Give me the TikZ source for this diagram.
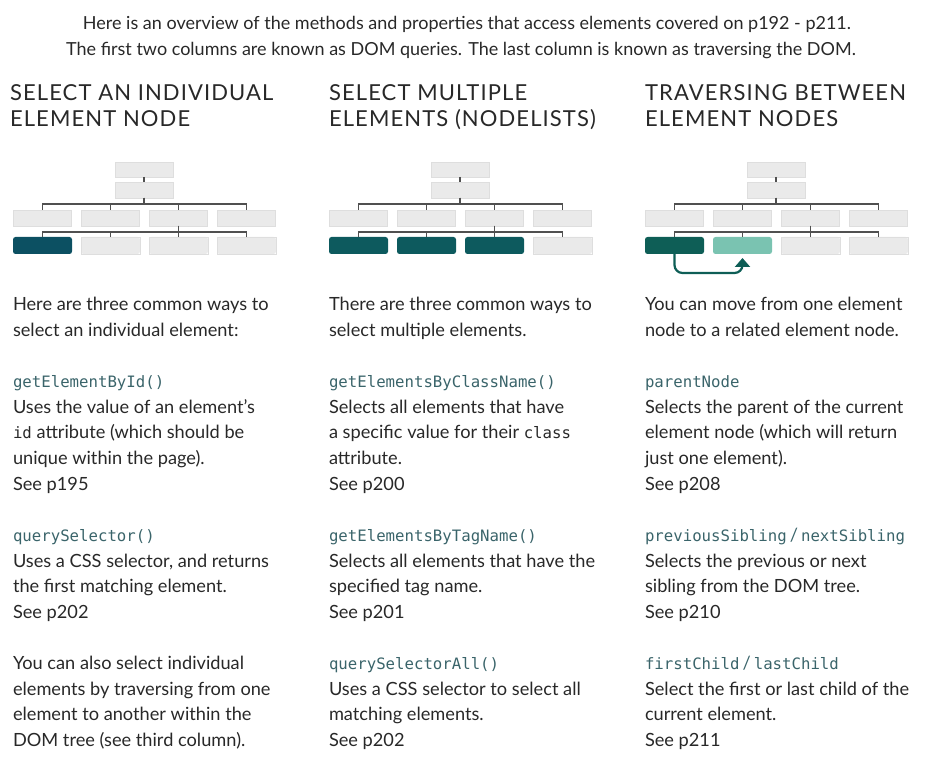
\documentclass[tikz,border=0pt]{standalone}
\usepackage{fontspec}
\setmainfont{Lato}
\newfontfamily\codefont{DejaVu Sans Mono}
\newfontfamily\headfont[LetterSpace=5]{Lato}
\usetikzlibrary{arrows.meta}
\definecolor{txt}{RGB}{40,40,40}
\definecolor{codec}{RGB}{58,100,106}
\definecolor{lbox}{RGB}{234,234,234}
\definecolor{lboxd}{RGB}{222,222,222}
\definecolor{connc}{RGB}{80,80,80}
\definecolor{darkA}{RGB}{12,80,98}
\definecolor{darkB}{RGB}{13,90,94}
\definecolor{darkC}{RGB}{14,94,86}
\definecolor{lightC}{RGB}{122,195,177}
\newcommand{\cd}[1]{{\codefont\fontsize{15.7}{25.6}\selectfont\color{codec}#1}}
\newcommand{\ci}[1]{{\codefont\fontsize{15.7}{25.6}\selectfont #1}}
\begin{document}
\begin{tikzpicture}[x=1pt,y=-1pt,
  every node/.style={inner sep=0pt,outer sep=0pt},
  lb/.style={draw=lboxd,fill=lbox,line width=0.6pt,minimum width=58pt},
  db/.style={minimum width=59pt,rounded corners=2.5pt},
  conn/.style={draw=connc,line width=1.5pt},
  tl/.style={anchor=base west,text=txt,font=\fontsize{18.2}{25.6}\selectfont},
  hd/.style={anchor=base west,text=txt,font=\headfont\fontsize{22}{26}\selectfont},
  top/.style={anchor=base,text=txt,font=\fontsize{18}{26}\selectfont},
  arr/.style={draw=darkC,line width=2.2pt,rounded corners=8pt,-{Triangle[width=15pt,length=9pt]}}]
\useasboundingbox (0,0) rectangle (930,767);

% header
\node[top] (h1) at (467,30) {Here is an overview of the methods and properties that access elements covered on p192 - p211.};
\node[top] (h2) at (461,56) {The first two columns are known as DOM queries. The last column is known as traversing the DOM.};

% column headings
\node[hd] (ha1) at (10,101) {SELECT AN INDIVIDUAL};
\node[hd] (ha2) at (10,127) {ELEMENT NODE};
\node[hd] (hb1) at (329,101) {SELECT MULTIPLE};
\node[hd] (hb2) at (329,127) {ELEMENTS (NODELISTS)};
\node[hd] (hc1) at (645,101) {TRAVERSING BETWEEN};
\node[hd] (hc2) at (645,127) {ELEMENT NODES};

% trees: upper rows
\foreach \ox/\p in {0/A,316/B,632/C}{
  \node[lb,minimum height=15pt] (\p r) at (144+\ox,169.5) {};
  \node[lb,minimum height=16pt] (\p s) at (144+\ox,190) {};
  \foreach \k in {0,1,2,3}{
    \node[lb,minimum height=16pt] (\p m\k) at (42.5+68*\k+\ox,218) {};
  }
  \draw[conn] (\p r.south) -- (\p s.north);
  \foreach \k in {0,1,2,3}{
    \draw[conn] (\p s.south) -- ++(0,6) -| (\p m\k.north);
  }
}
% bottom rows
\foreach \ox/\p/\fa/\fb/\fc/\fd in {0/A/darkA/lbox/lbox/lbox,316/B/darkB/darkB/darkB/lbox,632/C/darkC/lightC/lbox/lbox}{
  \node[db,fill=\fa,minimum height=17pt] (\p b0) at (42.5+\ox,245.5) {};
  \node[db,fill=\fb,minimum height=17pt] (\p b1) at (110.5+\ox,245.5) {};
  \node[db,fill=\fc,minimum height=17pt] (\p b2) at (178.5+\ox,245.5) {};
  \node[db,fill=\fd,minimum height=17pt] (\p b3) at (246.5+\ox,245.5) {};
  \foreach \k in {0,1,2,3}{
    \draw[conn] (\p m2.south) -- ++(0,6) -| (\p b\k.north);
  }
}
% light boxes in bottom rows get a thin border
\foreach \n in {Ab1,Ab2,Ab3,Bb3,Cb2,Cb3}{
  \draw[draw=lboxd,line width=0.6pt] (\n.south west) rectangle (\n.north east);
}
% traversal arrow
\draw[arr] (Cb0.south) -- ++(0,19) -| ([yshift=-4pt]Cb1.south);

% column texts
\foreach \t [count=\i from 0] in {
 {Here are three common ways to},{select an individual element:},{},
 {\cd{getElementById()}},{Uses the value of an element's},{\ci{id} attribute (which should be},
 {unique within the page).},{See p195},{},
 {\cd{querySelector()}},{Uses a CSS selector, and returns},{the first matching element.},{See p202},{},
 {You can also select individual},{elements by traversing from one},{element to another within the},{DOM tree (see third column).}}{
  \node[tl] (ta\i) at (13,311+25.6*\i) {\t};
}
\foreach \t [count=\i from 0] in {
 {There are three common ways to},{select multiple elements.},{},
 {\cd{getElementsByClassName()}},{Selects all elements that have},{a specific value for their \ci{class}},
 {attribute.},{See p200},{},
 {\cd{getElementsByTagName()}},{Selects all elements that have the},{specified tag name.},{See p201},{},
 {\cd{querySelectorAll()}},{Uses a CSS selector to select all},{matching elements.},{See p202}}{
  \node[tl] (tb\i) at (329,311+25.6*\i) {\t};
}
\foreach \t [count=\i from 0] in {
 {You can move from one element},{node to a related element node.},{},
 {\cd{parentNode}},{Selects the parent of the current},{element node (which will return},
 {just one element).},{See p208},{},
 {\cd{previousSibling}\,{\color{codec}/}\,\cd{nextSibling}},{Selects the previous or next},{sibling from the DOM tree.},{See p210},{},
 {\cd{firstChild}\,{\color{codec}/}\,\cd{lastChild}},{Select the first or last child of the},{current element.},{See p211}}{
  \node[tl] (tc\i) at (645,311+25.6*\i) {\t};
}
\end{tikzpicture}
\end{document}
